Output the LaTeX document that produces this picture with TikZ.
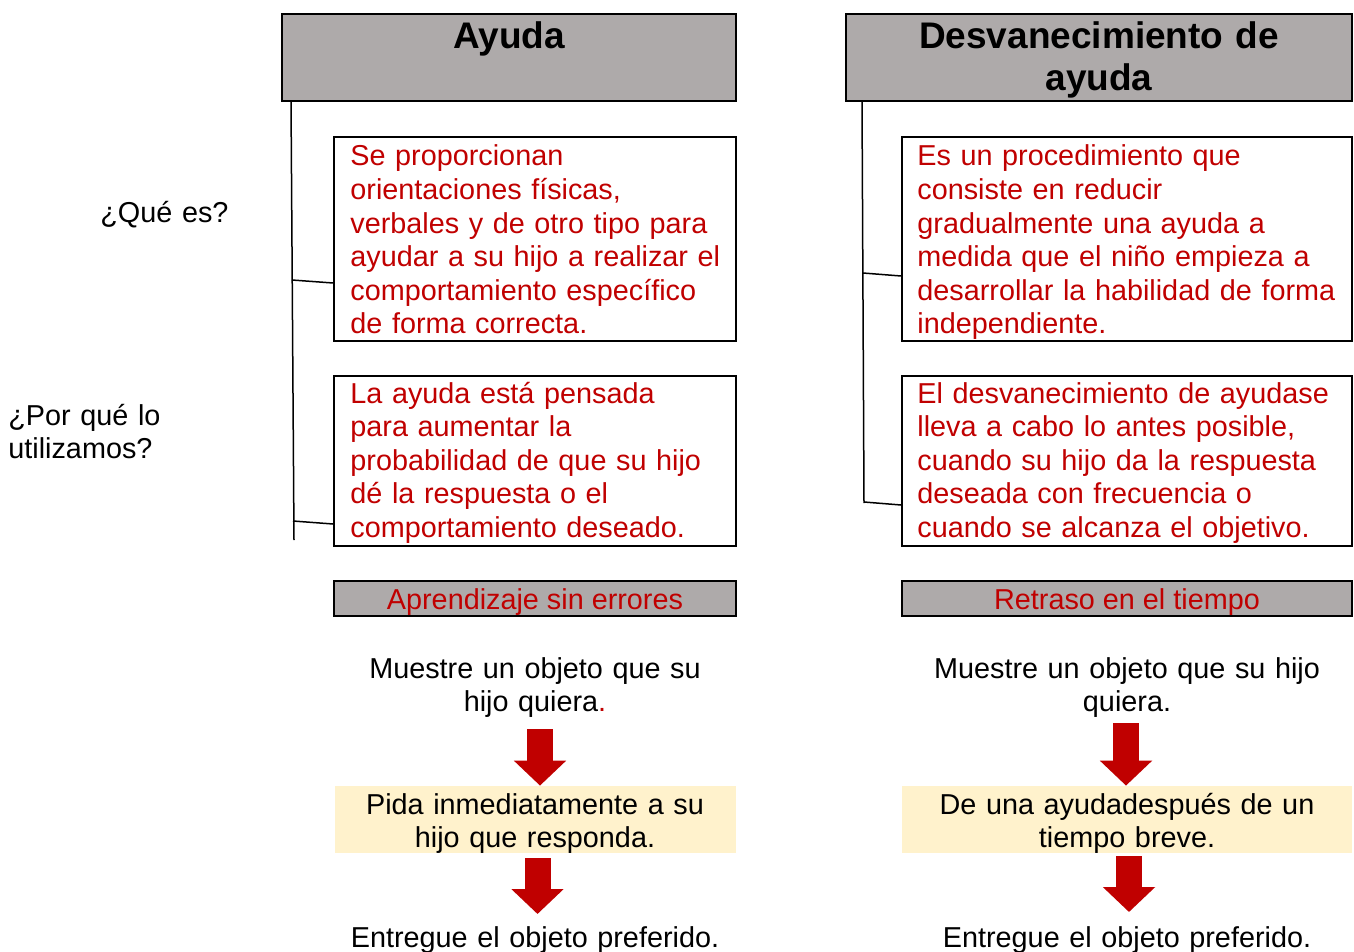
\documentclass[tikz,border=0pt]{standalone}
\usepackage{fontspec}
\setmainfont{Liberation Sans}
\usetikzlibrary{arrows.meta}
\definecolor{tipred}{HTML}{C00000}
\definecolor{bargray}{HTML}{AEAAAA}
\definecolor{notebg}{HTML}{FFF2CC}
\newcommand\bodyfont{\fontsize{14.4pt}{16.8pt}\selectfont}
\newcommand\headfont{\fontsize{18.5pt}{21pt}\selectfont\bfseries}
\tikzset{
x=0.5pt, y=-0.5pt, % one unit is one pixel of the layout, y runs downwards
headbox/.style={draw, line width=1pt, fill=bargray, minimum height=43.5pt, inner sep=0pt}, % grey column titles
headtext/.style={font=\headfont, text width=240pt, align=center, anchor=base, inner sep=0pt},
infobox/.style={draw, line width=1pt, inner sep=0pt}, % framed red explanations
infotext/.style={font=\bodyfont, text=tipred, text width=220pt, align=left, anchor=base west, inner sep=0pt},
asktext/.style={font=\bodyfont, text width=100pt, align=left, anchor=base west, inner sep=0pt},
tagbar/.style={draw, line width=1pt, fill=bargray, minimum height=17.5pt, inner sep=0pt}, % small grey strips
tagtext/.style={font=\bodyfont, text=tipred, anchor=base, inner sep=0pt},
notebox/.style={fill=notebg, minimum height=33.5pt, inner sep=0pt}, % pale yellow step
steptext/.style={font=\bodyfont, text width=220pt, align=center, anchor=base, inner sep=0pt},
trunk/.style={line width=0.75pt},
blockarrow/.style={tipred, line width=13pt, -{Triangle[length=12.5pt, width=25.5pt]}}, % fat red arrows
}
\begin{document}
\begin{tikzpicture}
\useasboundingbox (0,0) rectangle (1354,952);

% column titles
\node[headbox, minimum width=227pt] (headL) at (509,57.5) {};
\node[headtext] at (509,49) {Ayuda};
\node[headbox, minimum width=253pt] (headR) at (1099,57.5) {};
\node[headtext] at (1099,49) {Desvanecimiento de\\ayuda};

% questions on the left
\node[asktext] (qWhat) at (100,223) {¿Qué es?};
\node[asktext] (qWhy) at (8,425) {¿Por qué lo\\utilizamos?};

% framed answers
\node[infobox, minimum width=201pt, minimum height=102pt] (whatL) at (535,239) {};
\node[infobox, minimum width=201pt, minimum height=85pt] (whyL) at (535,461) {};
\node[infobox, minimum width=225pt, minimum height=102pt] (whatR) at (1127,239) {};
\node[infobox, minimum width=225pt, minimum height=85pt] (whyR) at (1127,461) {};

\node[infotext] at (350,166) {Se proporcionan\\orientaciones físicas,\\verbales y de otro tipo para\\ayudar a su hijo a realizar el\\comportamiento específico\\de forma correcta.};
\node[infotext] at (350,403) {La ayuda está pensada\\para aumentar la\\probabilidad de que su hijo\\dé la respuesta o el\\comportamiento deseado.};
\node[infotext] at (917,166) {Es un procedimiento que\\consiste en reducir\\gradualmente una ayuda a\\medida que el niño empieza a\\desarrollar la habilidad de forma\\independiente.};
\node[infotext] at (917,403) {El desvanecimiento de ayudase\\lleva a cabo lo antes posible,\\cuando su hijo da la respuesta\\deseada con frecuencia o\\cuando se alcanza el objetivo.};

% tree lines
\coordinate (trunkL) at (291,101);
\coordinate (endL) at (294,540);
\coordinate (forkL1) at (292,280);
\coordinate (forkL2) at (293,521);
\coordinate (trunkR) at (862,101);
\coordinate (endR) at (864,503);
\coordinate (forkR1) at (863,273);
\coordinate (forkR2) at (864,502);
\draw[trunk] (trunkL) -- (endL);
\draw[trunk] (forkL1) -- ([yshift=-1.5pt]forkL1 -| whatL.west);
\draw[trunk] (forkL2) -- ([yshift=-1.5pt]forkL2 -| whyL.west);
\draw[trunk] (trunkR) -- (endR);
\draw[trunk] (forkR1) -- ([yshift=-1.5pt]forkR1 -| whatR.west);
\draw[trunk] (forkR2) -- ([yshift=-1.5pt]forkR2 -| whyR.west);

% grey strips
\node[tagbar, minimum width=201pt] (tagL) at (535,598.5) {};
\node[tagtext] at (535,609) {Aprendizaje sin errores};
\node[tagbar, minimum width=225pt] (tagR) at (1127,598.5) {};
\node[tagtext] at (1127,609) {Retraso en el tiempo};

% steps
\node[steptext] (showL) at (535,678) {Muestre un objeto que su\\hijo quiera{\color{tipred}.}};
\node[notebox, minimum width=200.5pt] (askL) at (535.5,819.5) {};
\node[steptext] at (535,814) {Pida inmediatamente a su\\hijo que responda.};
\node[steptext] (giveL) at (535,947) {Entregue el objeto preferido.};

\node[steptext] (showR) at (1127,678) {Muestre un objeto que su hijo\\quiera.};
\node[notebox, minimum width=225pt] (askR) at (1127,819.5) {};
\node[steptext] at (1127,814) {De una ayudadespués de un\\tiempo breve.};
\node[steptext] (giveR) at (1127,947) {Entregue el objeto preferido.};

% red arrows
\coordinate (arrL1) at (540,729);
\coordinate (arrL2) at (537.5,858);
\coordinate (tipL2) at (537.5,914);
\coordinate (arrR1) at (1126,723);
\coordinate (arrR2) at (1129,856);
\coordinate (tipR2) at (1129,912);
\draw[blockarrow] (arrL1) -- (arrL1 |- askL.north);
\draw[blockarrow] (arrL2) -- (tipL2);
\draw[blockarrow] (arrR1) -- (arrR1 |- askR.north);
\draw[blockarrow] (arrR2) -- (tipR2);
\end{tikzpicture}
\end{document}
